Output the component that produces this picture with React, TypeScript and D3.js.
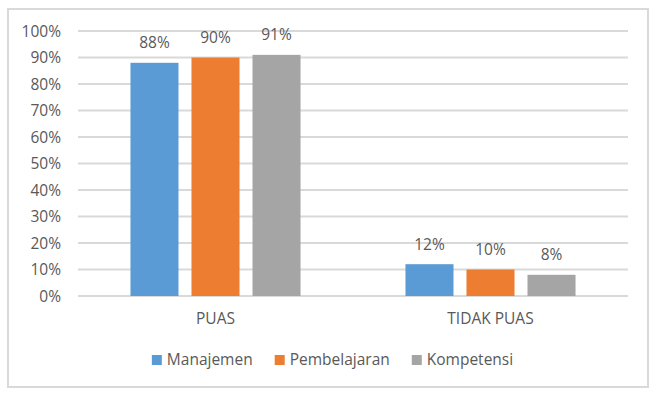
import React, { useEffect, useRef } from 'react';
import * as d3 from 'd3';

const categories = ['PUAS', 'TIDAK PUAS'];
const seriesNames = ['Manajemen', 'Pembelajaran', 'Kompetensi'];
const manajemen = [0.88, 0.12];
const pembelajaran = [0.9, 0.1];
const kompetensi = [0.91, 0.08];
const yTicks = [0, 0.1, 0.2, 0.3, 0.4, 0.5, 0.6, 0.7, 0.8, 0.9, 1];
const colors = ['#5b9bd5', '#ed7d31', '#a5a5a5'];

const W = 656;
const H = 396;
const FONT = '"Open Sans", sans-serif';
const TEXT = '#595959';
const GRID = '#d9d9d9';

export default function App() {
  const svgRef = useRef<SVGSVGElement>(null);

  useEffect(() => {
    if (!svgRef.current) return;
    const svg = d3.select(svgRef.current);
    svg.selectAll('*').remove();

    const values = [manajemen, pembelajaran, kompetensi];

    const x = d3.scaleBand().domain(categories).range([78, 628]);
    const xs = d3.scaleBand()
      .domain(seriesNames)
      .range([0, x.bandwidth()])
      .paddingInner(0.213)
      .paddingOuter(0.86);
    const y = d3.scaleLinear().domain([0, 1]).range([296, 31]);

    // chart border
    svg.append('rect')
      .attr('x', 8).attr('y', 9)
      .attr('width', 640).attr('height', 378)
      .attr('fill', '#fff')
      .attr('stroke', GRID)
      .attr('stroke-width', 2);

    // gridlines + y labels
    const g = svg.append('g');
    g.selectAll('line.grid')
      .data(yTicks)
      .enter()
      .append('line')
      .attr('x1', 78).attr('x2', 628)
      .attr('y1', d => y(d)).attr('y2', d => y(d))
      .attr('stroke', GRID)
      .attr('stroke-width', 2);

    g.selectAll('text.ytick')
      .data(yTicks)
      .enter()
      .append('text')
      .attr('x', 61)
      .attr('y', d => y(d) + 5.5)
      .attr('text-anchor', 'end')
      .attr('font-family', FONT)
      .attr('font-size', 15.5)
      .attr('fill', TEXT)
      .text(d => d3.format('.0%')(d));

    // bars
    seriesNames.forEach((name, si) => {
      const sg = svg.append('g');
      sg.selectAll('rect')
        .data(categories)
        .enter()
        .append('rect')
        .attr('x', c => (x(c) || 0) + (xs(name) || 0))
        .attr('y', (c, i) => y(values[si][i]))
        .attr('width', xs.bandwidth())
        .attr('height', (c, i) => y(0) - y(values[si][i]))
        .attr('fill', colors[si]);

      sg.selectAll('text')
        .data(categories)
        .enter()
        .append('text')
        .attr('x', c => (x(c) || 0) + (xs(name) || 0) + xs.bandwidth() / 2)
        .attr('y', (c, i) => y(values[si][i]) - 14.5)
        .attr('text-anchor', 'middle')
        .attr('font-family', FONT)
        .attr('font-size', 15.5)
        .attr('fill', TEXT)
        .text((c, i) => d3.format('.0%')(values[si][i]));
    });

    // category labels
    svg.append('g')
      .selectAll('text')
      .data(categories)
      .enter()
      .append('text')
      .attr('x', c => (x(c) || 0) + x.bandwidth() / 2)
      .attr('y', 324)
      .attr('text-anchor', 'middle')
      .attr('font-family', FONT)
      .attr('font-size', 15.5)
      .attr('fill', TEXT)
      .text(c => c);

    // legend, centred under the plot
    const legend = svg.append('g');
    const items = seriesNames.map((name, i) => {
      const item = legend.append('g');
      item.append('rect')
        .attr('width', 10).attr('height', 10)
        .attr('y', -10)
        .attr('fill', colors[i]);
      const t = item.append('text')
        .attr('x', 15)
        .attr('font-family', FONT)
        .attr('font-size', 15.5)
        .attr('fill', TEXT)
        .text(name);
      const w = 15 + ((t.node() as SVGTextElement).getComputedTextLength());
      return { item, w };
    });
    const gap = 22;
    const total = d3.sum(items, d => d.w) + gap * (items.length - 1);
    let cx = 332.5 - total / 2;
    items.forEach(d => {
      d.item.attr('transform', `translate(${cx},365)`);
      cx += d.w + gap;
    });
  }, []);

  return (
    <svg
      ref={svgRef}
      width={W}
      height={H}
      style={{ position: 'absolute', left: 0, top: 0, background: '#fff' }}
    />
  );
}
